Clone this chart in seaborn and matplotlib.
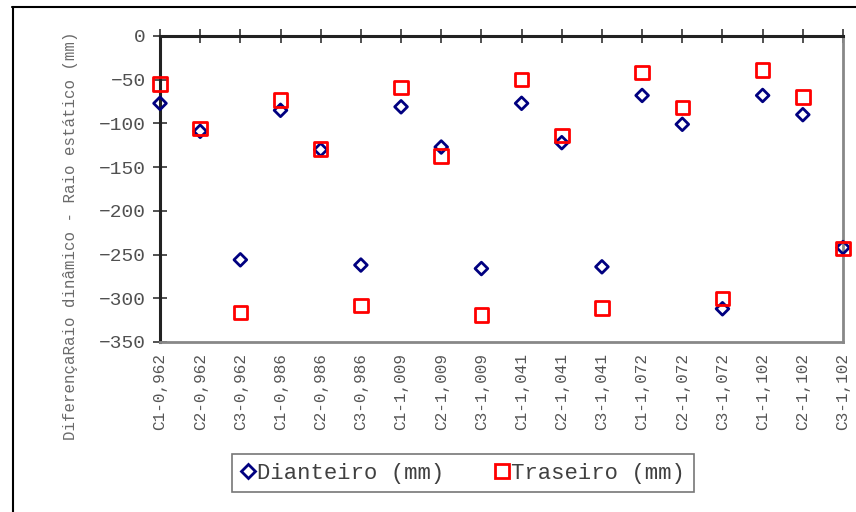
import matplotlib
matplotlib.use("Agg")
import matplotlib.pyplot as plt
from matplotlib.lines import Line2D
import seaborn as sns
import pandas as pd

categories = ["C1-0,962", "C2-0,962", "C3-0,962", "C1-0,986", "C2-0,986", "C3-0,986",
              "C1-1,009", "C2-1,009", "C3-1,009", "C1-1,041", "C2-1,041", "C3-1,041",
              "C1-1,072", "C2-1,072", "C3-1,072", "C1-1,102", "C2-1,102", "C3-1,102"]
dianteiro = [-77, -109, -256, -85, -130, -262, -81, -127, -266, -77, -122, -264,
             -68, -101, -312, -68, -90, -242]
traseiro = [-55, -106, -316, -73, -129, -308, -59, -137, -319, -50, -114, -311,
            -42, -82, -300, -39, -70, -243]
yticks = [0, -50, -100, -150, -200, -250, -300, -350]
ylabel = "DiferençaRaio dinâmico - Raio estático (mm)"
series_names = ["Dianteiro (mm)", "Traseiro (mm)"]

sns.set_style("white")
plt.rcParams["font.family"] = ["Liberation Mono", "DejaVu Sans Mono"]

df = pd.DataFrame({"cat": categories, series_names[0]: dianteiro, series_names[1]: traseiro})

fig = plt.figure(figsize=(8.56, 5.12), dpi=100)
ax = fig.add_axes([160/856, 1-342/512, 683/856, 306/512])

sns.scatterplot(data=df, x="cat", y=series_names[0], ax=ax, marker="D", s=42,
                color="#000080", facecolor="none", edgecolor="#000080", linewidth=2.0,
                clip_on=False, zorder=3)
sns.scatterplot(data=df, x="cat", y=series_names[1], ax=ax, marker="s", s=95,
                color="#ff0000", facecolor="none", edgecolor="#ff0000", linewidth=2.0,
                clip_on=False, zorder=3)

ax.set_xlim(0, len(categories) - 1)
ax.set_ylim(-350, 0)
ax.set_yticks(yticks)
ax.set_xticks(range(len(categories)))
ax.set_xticklabels(categories, rotation=90, fontsize=11.5, color="#555555")
ax.tick_params(axis="y", direction="inout", length=10, width=1.2, color="#333333",
               labelsize=14, labelcolor="#505050", left=True, pad=5)
ax.tick_params(axis="x", direction="inout", length=10, width=1.2, color="#333333",
               top=True, bottom=False, labeltop=False, labelbottom=True, pad=3)
ax.set_xlabel("")
ax.set_ylabel(ylabel, fontsize=11.3, color="#6a6a6a")
ax.yaxis.set_label_coords(-0.12, 0.346)

for side in ["top", "left"]:
    ax.spines[side].set_visible(True)
    ax.spines[side].set_color("#222222")
    ax.spines[side].set_linewidth(2.2)
for side in ["bottom", "right"]:
    ax.spines[side].set_visible(True)
    ax.spines[side].set_color("#888888")
    ax.spines[side].set_linewidth(2)

handles = [
    Line2D([], [], linestyle="none", marker="D", markersize=7, markerfacecolor="none",
           markeredgecolor="#000080", markeredgewidth=2.0),
    Line2D([], [], linestyle="none", marker="s", markersize=9.5, markerfacecolor="none",
           markeredgecolor="#ff0000", markeredgewidth=2.0),
]
leg = fig.legend(handles, series_names, loc="center",
                 bbox_to_anchor=(463/856, 1-473/512), ncol=2, fontsize=16,
                 frameon=True, fancybox=False, handlelength=0.6, handletextpad=0.1,
                 columnspacing=2.3, borderpad=0.4)
leg.get_frame().set_edgecolor("#555555")
leg.get_frame().set_linewidth(1.2)
for t in leg.get_texts():
    t.set_color("#404040")

fig.add_artist(Line2D([12.5/856, 12.5/856], [0, 1-7/512], color="black", lw=1.5,
                      transform=fig.transFigure))
fig.add_artist(Line2D([12/856, 1], [1-7/512, 1-7/512], color="black", lw=1.5,
                      transform=fig.transFigure))

fig.savefig("out.png", dpi=100)
